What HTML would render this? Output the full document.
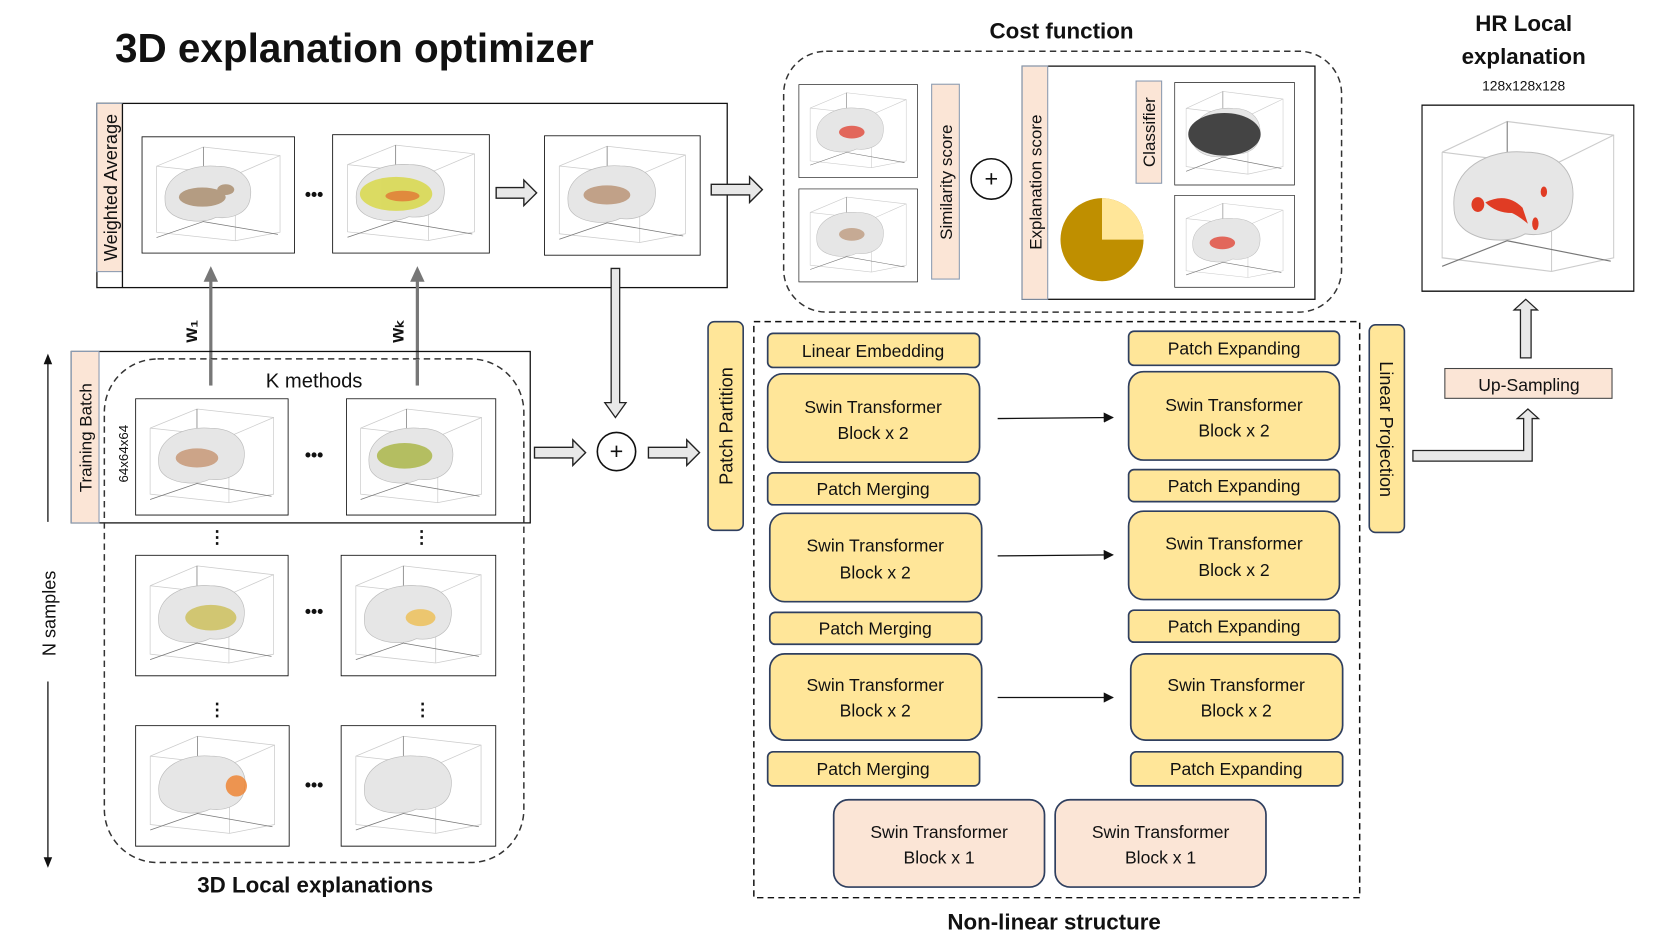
<!DOCTYPE html>
<html><head><meta charset="utf-8">
<style>
html,body{margin:0;padding:0;background:#fff;}
svg{display:block;}
text{font-family:"Liberation Sans",sans-serif;fill:#111;}
.t{font-size:16.5px;text-anchor:middle;}
.b{font-weight:bold;}
</style></head>
<body>
<svg width="1661" height="934" viewBox="0 0 1560 877" xmlns="http://www.w3.org/2000/svg">
<defs>
<symbol id="br" viewBox="0 0 144 110" preserveAspectRatio="none">
  <rect x="0" y="0" width="144" height="110" fill="#fff" stroke="#111" stroke-width="1.6"/>
  <g stroke="#ccc" stroke-width="0.7" fill="none">
    <polyline points="14,28 58,10 130,18 130,90 88,98 14,90 14,28"/>
    <line x1="14" y1="28" x2="88" y2="36"/><line x1="88" y1="36" x2="130" y2="18"/><line x1="88" y1="36" x2="88" y2="98"/>
  </g>
  <g stroke="#777" stroke-width="0.7"><line x1="58" y1="10" x2="58" y2="80"/><line x1="58" y1="80" x2="14" y2="95"/><line x1="58" y1="80" x2="128" y2="92"/></g>
  <path d="M22,60 C20,38 45,26 70,28 C95,28 105,42 102,58 C100,72 85,78 70,76 C58,82 40,80 30,74 C24,70 22,66 22,60Z" fill="#e6e6e6" stroke="#bbb" stroke-width="0.6"/>
</symbol>
<marker id="ah" markerWidth="8" markerHeight="8" refX="7" refY="4" orient="auto"><path d="M0,0 L8,4 L0,8Z" fill="#111"/></marker>
</defs>

<text x="108" y="58" class="b" font-size="38" style="font-size:38px">3D explanation optimizer</text>

<!-- Weighted average -->
<rect x="91" y="97" width="592" height="173" fill="#fff" stroke="#111" stroke-width="1.2"/>
<rect x="91" y="97" width="24" height="158" fill="#fbe5d6" stroke="#8a9ab0" stroke-width="1"/>
<line x1="115" y1="97" x2="115" y2="270" stroke="#111" stroke-width="1.2"/>
<text transform="translate(110,176) rotate(-90)" class="t" style="font-size:17px">Weighted Average</text>
<use href="#br" x="133" y="128" width="144" height="110"/>
<g fill="#a88a6a" opacity="0.8"><ellipse cx="190" cy="185" rx="22" ry="9"/><ellipse cx="212" cy="178" rx="8" ry="5"/></g>
<text x="295" y="188" class="t b">•••</text>
<use href="#br" x="312" y="126" width="148" height="112"/>
<g opacity="0.85"><ellipse cx="372" cy="182" rx="34" ry="16" fill="#d8d84a"/><ellipse cx="378" cy="184" rx="16" ry="5" fill="#e07a20"/></g>
<use href="#br" x="511" y="127" width="147" height="113"/>
<g fill="#b89070" opacity="0.8"><ellipse cx="570" cy="183" rx="22" ry="9"/></g>
<path d="M466,176 h26 v-7 l12,12 l-12,12 v-7 h-26z" fill="#e8e8e8" stroke="#222" stroke-width="1.3"/>
<path d="M668,173 h36 v-7 l12,12 l-12,12 v-7 h-36z" fill="#e8e8e8" stroke="#222" stroke-width="1.3"/>

<!-- up arrows -->
<g fill="#777" stroke="#777"><line x1="198" y1="362" x2="198" y2="262" stroke-width="3"/><path d="M192,264 L198,251 L204,264Z"/>
<line x1="392" y1="362" x2="392" y2="262" stroke-width="3"/><path d="M386,264 L392,251 L398,264Z"/></g>
<text transform="translate(185,311) rotate(-90)" class="t b" style="font-size:18px">w₁</text>
<text transform="translate(379,311) rotate(-90)" class="t b" style="font-size:18px">wₖ</text>

<!-- training batch -->
<rect x="67" y="330" width="431" height="161" fill="none" stroke="#111" stroke-width="1.2"/>
<rect x="67" y="330" width="26" height="161" fill="#fbe5d6" stroke="#8a9ab0" stroke-width="1"/>
<text transform="translate(86,411) rotate(-90)" class="t" style="font-size:16px">Training Batch</text>
<text transform="translate(120,426) rotate(-90)" class="t" style="font-size:12.5px">64x64x64</text>
<rect x="98" y="337" width="394" height="473" rx="50" fill="none" stroke="#333" stroke-width="1.4" stroke-dasharray="6,4"/>
<rect x="240" y="345" width="110" height="22" fill="#fff"/>
<text x="295" y="364" class="t" style="font-size:19px">K methods</text>
<line x1="198" y1="337" x2="198" y2="362" stroke="#777" stroke-width="3"/>
<line x1="392" y1="337" x2="392" y2="362" stroke="#777" stroke-width="3"/>
<use href="#br" x="127" y="374" width="144" height="110"/>
<ellipse cx="185" cy="430" rx="20" ry="9" fill="#c08860" opacity="0.7"/>
<use href="#br" x="325" y="374" width="141" height="110"/>
<ellipse cx="380" cy="428" rx="26" ry="12" fill="#a8b440" opacity="0.8"/>
<text x="295" y="433" class="t b">•••</text>
<use href="#br" x="127" y="521" width="144" height="114"/>
<ellipse cx="198" cy="580" rx="24" ry="12" fill="#c8b840" opacity="0.7"/>
<use href="#br" x="320" y="521" width="146" height="114"/>
<ellipse cx="395" cy="580" rx="14" ry="8" fill="#f0b020" opacity="0.6"/>
<text x="295" y="580" class="t b">•••</text>
<use href="#br" x="127" y="681" width="145" height="114"/>
<ellipse cx="222" cy="738" rx="10" ry="10" fill="#f07010" opacity="0.7"/>
<use href="#br" x="320" y="681" width="146" height="114"/>
<text x="295" y="743" class="t b">•••</text>
<g font-size="20" class="b"><text x="204" y="510" class="t b">⋮</text><text x="396" y="510" class="t b">⋮</text><text x="204" y="672" class="t b">⋮</text><text x="397" y="672" class="t b">⋮</text></g>
<text x="296" y="838" class="t b" style="font-size:21px">3D Local explanations</text>

<!-- N samples -->
<g stroke="#111" stroke-width="1.2"><line x1="45" y1="336" x2="45" y2="490"/><line x1="45" y1="640" x2="45" y2="812"/></g>
<path d="M41,342 L45,332 L49,342Z M41,805 L45,815 L49,805Z" fill="#111"/>
<text transform="translate(52,576) rotate(-90)" class="t" style="font-size:17px">N samples</text>

<!-- merge -->
<path d="M502,420 h36 v-7 l12,12 l-12,12 v-7 h-36z" fill="#e8e8e8" stroke="#222" stroke-width="1.3"/>
<circle cx="579" cy="424" r="18" fill="#fff" stroke="#111" stroke-width="1.5"/>
<text x="579" y="431" class="t" style="font-size:22px">+</text>
<path d="M609,420 h36 v-7 l12,12 l-12,12 v-7 h-36z" fill="#e8e8e8" stroke="#222" stroke-width="1.3"/>
<path d="M574,252 h8 v126 h6 l-10,14 l-10,-14 h6z" fill="#e8e8e8" stroke="#222" stroke-width="1.2"/>

<!-- Patch partition -->
<rect x="665" y="302" width="33" height="196" rx="6" fill="#ffe699" stroke="#2f3f5f" stroke-width="1.5"/>
<text transform="translate(688,400) rotate(-90)" class="t" style="font-size:17px">Patch Partition</text>

<!-- nonlinear -->
<rect x="708" y="302" width="569" height="541" fill="none" stroke="#111" stroke-width="1.4" stroke-dasharray="6,4"/>
<g fill="#ffe699" stroke="#2f3f5f" stroke-width="1.6">
<rect x="721" y="313" width="199" height="32" rx="5"/>
<rect x="721" y="351" width="199" height="83" rx="14"/>
<rect x="721" y="444" width="199" height="30" rx="5"/>
<rect x="723" y="482" width="199" height="83" rx="14"/>
<rect x="723" y="575" width="199" height="30" rx="5"/>
<rect x="723" y="614" width="199" height="81" rx="14"/>
<rect x="721" y="706" width="199" height="32" rx="5"/>
<rect x="1060" y="311" width="198" height="32" rx="5"/>
<rect x="1060" y="349" width="198" height="83" rx="14"/>
<rect x="1060" y="441" width="198" height="30" rx="5"/>
<rect x="1060" y="480" width="198" height="83" rx="14"/>
<rect x="1060" y="573" width="198" height="30" rx="5"/>
<rect x="1062" y="614" width="199" height="81" rx="14"/>
<rect x="1062" y="706" width="199" height="32" rx="5"/>
</g>
<g class="t">
<text x="820" y="335" class="t">Linear Embedding</text>
<text x="820" y="388" class="t">Swin Transformer</text><text x="820" y="412" class="t">Block x 2</text>
<text x="820" y="465" class="t">Patch Merging</text>
<text x="822" y="518" class="t">Swin Transformer</text><text x="822" y="543" class="t">Block x 2</text>
<text x="822" y="596" class="t">Patch Merging</text>
<text x="822" y="649" class="t">Swin Transformer</text><text x="822" y="673" class="t">Block x 2</text>
<text x="820" y="728" class="t">Patch Merging</text>
<text x="1159" y="333" class="t">Patch Expanding</text>
<text x="1159" y="386" class="t">Swin Transformer</text><text x="1159" y="410" class="t">Block x 2</text>
<text x="1159" y="462" class="t">Patch Expanding</text>
<text x="1159" y="516" class="t">Swin Transformer</text><text x="1159" y="541" class="t">Block x 2</text>
<text x="1159" y="594" class="t">Patch Expanding</text>
<text x="1161" y="649" class="t">Swin Transformer</text><text x="1161" y="673" class="t">Block x 2</text>
<text x="1161" y="728" class="t">Patch Expanding</text>
</g>
<g stroke="#111" stroke-width="1.2" marker-end="url(#ah)">
<line x1="937" y1="393" x2="1045" y2="392"/><line x1="937" y1="522" x2="1045" y2="521"/><line x1="937" y1="655" x2="1045" y2="655"/></g>
<g fill="#fbe5d6" stroke="#2f3f5f" stroke-width="1.6">
<rect x="783" y="751" width="198" height="82" rx="14"/><rect x="991" y="751" width="198" height="82" rx="14"/></g>
<text x="882" y="787" class="t">Swin Transformer</text><text x="882" y="811" class="t">Block x 1</text>
<text x="1090" y="787" class="t">Swin Transformer</text><text x="1090" y="811" class="t">Block x 1</text>
<text x="990" y="873" class="t b" style="font-size:21px">Non-linear structure</text>

<!-- linear projection -->
<rect x="1286" y="305" width="33" height="195" rx="6" fill="#ffe699" stroke="#2f3f5f" stroke-width="1.5"/>
<text transform="translate(1296,403) rotate(90)" class="t" style="font-size:17px">Linear Projection</text>
<path d="M1327,423 h104 v-30 h-6 l10,-9 l10,9 h-6 v40 h-112z" fill="#e8e8e8" stroke="#222" stroke-width="1.2"/>
<rect x="1357" y="346" width="157" height="28" fill="#fbe5d6" stroke="#444" stroke-width="1"/>
<text x="1436" y="367" class="t">Up-Sampling</text>
<path d="M1428,336 v-45 h-6 l11,-10 l11,10 h-6 v45z" fill="#e8e8e8" stroke="#222" stroke-width="1.2"/>
<text x="1431" y="29" class="t b" style="font-size:21px">HR Local</text>
<text x="1431" y="60" class="t b" style="font-size:21px">explanation</text>
<text x="1431" y="85" class="t" style="font-size:13px">128x128x128</text>
<use href="#br" x="1335" y="98" width="200" height="176"/>
<g fill="#e02a10" opacity="0.9"><path d="M1395,190 q20,-10 35,5 l5,15 q-10,-8 -15,-10 q-15,0 -25,-10z"/><ellipse cx="1388" cy="192" rx="6" ry="7"/><ellipse cx="1442" cy="210" rx="3" ry="6"/><ellipse cx="1450" cy="180" rx="3" ry="5"/></g>

<!-- cost function -->
<text x="997" y="36" class="t b" style="font-size:21px">Cost function</text>
<rect x="736" y="48" width="524" height="245" rx="40" fill="none" stroke="#333" stroke-width="1.4" stroke-dasharray="6,4"/>
<use href="#br" x="750" y="79" width="112" height="88"/>
<ellipse cx="800" cy="124" rx="12" ry="6" fill="#e03020" opacity="0.7"/>
<use href="#br" x="750" y="177" width="112" height="88"/>
<ellipse cx="800" cy="220" rx="12" ry="6" fill="#b89070" opacity="0.7"/>
<rect x="875" y="79" width="26" height="183" fill="#fbe5d6" stroke="#8a9ab0" stroke-width="1"/>
<text transform="translate(894,171) rotate(-90)" class="t" style="font-size:16px">Similarity  score</text>
<circle cx="931" cy="168" r="19" fill="#fff" stroke="#111" stroke-width="1.5"/>
<text x="931" y="175" class="t" style="font-size:22px">+</text>
<rect x="960" y="62" width="275" height="219" fill="#fff" stroke="#111" stroke-width="1.2"/>
<rect x="960" y="62" width="24" height="219" fill="#fbe5d6" stroke="#8a9ab0" stroke-width="1"/>
<text transform="translate(978,171) rotate(-90)" class="t" style="font-size:16px">Explanation score</text>
<rect x="1067" y="76" width="24" height="96" fill="#fbe5d6" stroke="#8a9ab0" stroke-width="1"/>
<text transform="translate(1085,124) rotate(-90)" class="t" style="font-size:16px">Classifier</text>
<use href="#br" x="1103" y="77" width="113" height="97"/>
<ellipse cx="1150" cy="126" rx="34" ry="20" fill="#444"/>
<use href="#br" x="1103" y="183" width="113" height="87"/>
<ellipse cx="1148" cy="228" rx="12" ry="6" fill="#e03020" opacity="0.7"/>
<circle cx="1035" cy="225" r="39" fill="#bf8f00"/>
<path d="M1035,225 L1035,186 A39,39 0 0,1 1074,225Z" fill="#ffe699"/>
</svg>
</body></html>
